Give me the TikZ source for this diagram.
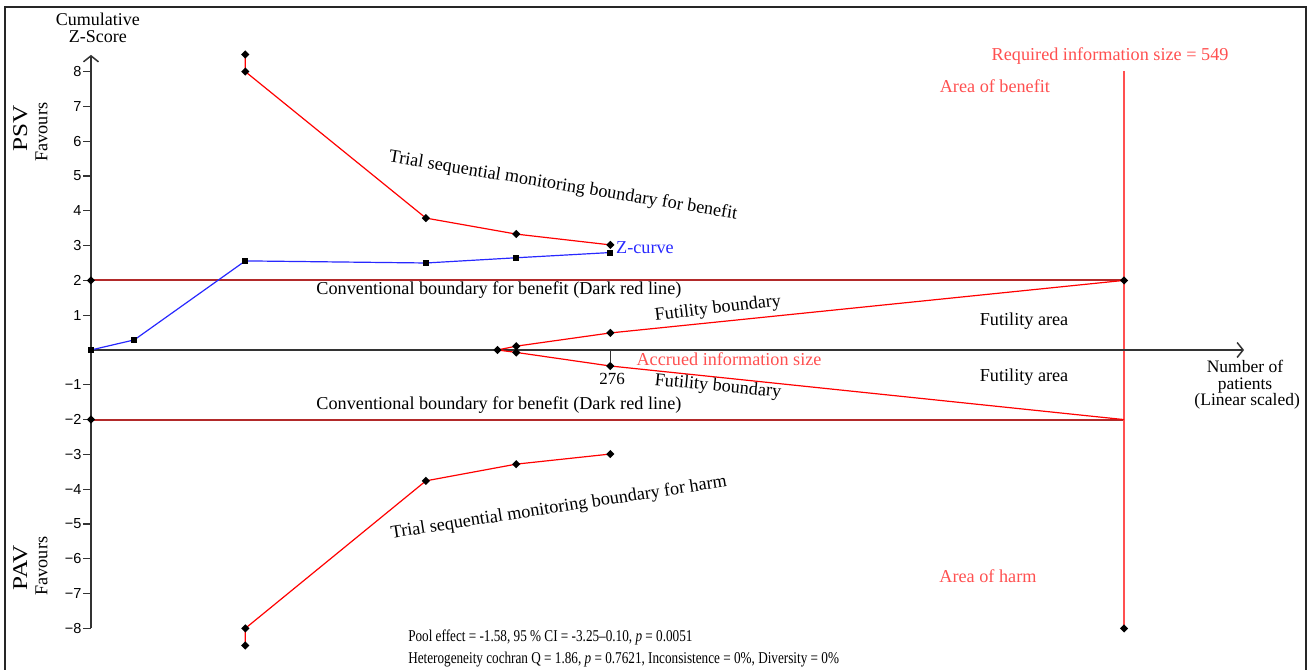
\documentclass[tikz,border=0pt]{standalone}
\usepackage{fontspec}
\setmainfont{Liberation Serif}
\newfontfamily\ticksfont{Liberation Sans}
\newfontfamily\condfont[FakeStretch=0.8]{Liberation Serif}
\newfontfamily\widefont[FakeStretch=1.2]{Liberation Serif}
\usetikzlibrary{arrows.meta,shapes.geometric}
\definecolor{convred}{RGB}{178,42,42}
\definecolor{infored}{RGB}{255,80,80}
\definecolor{zblue}{RGB}{40,40,255}
\tikzset{
  bound/.style={diamond,fill,inner sep=2.1pt},
  zmark/.style={rectangle,fill,inner sep=3pt},
  axis/.style={line width=1.5pt,black!80},
  lbl/.style={font=\fontsize{18.2}{20}\selectfont,inner sep=0pt},
  redlbl/.style={lbl,text=infored},
  ticklbl/.style={font=\ticksfont\fontsize{14.5}{16}\selectfont,anchor=east,inner sep=1pt,text=black},
  bline/.style={red,line width=1.2pt},
  zline/.style={zblue,line width=1.2pt}
}

\begin{document}
\begin{tikzpicture}[x=1.8816pt,y=34.8pt]

    % Define the information sizes (patients)
    \def\nacc{276}   % Accrued information size
    \def\nreq{549}   % Required information size
    \def\xarr{612.8} % End of the x-axis arrow

    \useasboundingbox (-48.36,-9.195) rectangle (647.85,10.057);

    % -- Outer frame --
    \draw[line width=2pt,black!85] (-45.7,-9.4) -- (-45.7,9.87) -- (645.7,9.87) -- (645.7,-9.4);

    % -- Boundary points --
    \foreach \n/\x/\y in {b1/82/8.49, b2/82/8.0, b3/178/3.79, b4/226/3.33, b5/\nacc/3.02,
                          h1/82/-8.49, h2/82/-8.0, h3/178/-3.76, h4/226/-3.28, h5/\nacc/-2.99,
                          fa/216/0, fu1/226/0.11, fu2/\nacc/0.49, fu3/\nreq/2,
                          fl1/226/-0.07, fl2/\nacc/-0.46, fl3/\nreq/-2,
                          cu0/0/2, cl0/0/-2, ri/\nreq/8.02, rb/\nreq/-8}
      \coordinate (\n) at (\x,\y);

    % -- Z-curve points --
    \foreach \n/\x/\y in {z0/0/0, z1/23/0.29, z2/82/2.56, z3/178/2.5, z4/226/2.65, z5/\nacc/2.8}
      \coordinate (\n) at (\x,\y);

    % -- Conventional boundaries (dark red lines) --
    \draw[convred,line width=2pt] (cu0) -- (fu3);
    \draw[convred,line width=2pt] (cl0) -- (fl3);

    % -- Required information size --
    \draw[infored,line width=1.6pt] (ri) -- (rb);

    % -- Axes --
    \draw[axis,-{Straight Barb[length=6pt,width=15pt]}] (0,-8) -- (0,8.48);
    \draw[axis,-{Straight Barb[length=6pt,width=15pt]}] (z0) -- (\xarr,0);
    \foreach \t in {1,...,8}{
      \draw[axis,line width=1.2pt] (0,\t) -- (-4.25,\t) node[ticklbl] {\t};
      \draw[axis,line width=1.2pt] (0,-\t) -- (-4.25,-\t) node[ticklbl] {−\t};
    }
    \draw[axis,line width=1.2pt] (\nacc,0) -- (\nacc,-0.34);

    % -- Monitoring and futility boundaries --
    \draw[bline] (b1) -- (b2) -- (b3) -- (b4) -- (b5);
    \draw[bline] (h1) -- (h2) -- (h3) -- (h4) -- (h5);
    \draw[bline] (fa) -- (fu1) -- (fu2) -- (fu3);
    \draw[bline] (fa) -- (fl1) -- (fl2) -- (fl3);

    % -- Z-curve --
    \draw[zline] (z0) -- (z1) -- (z2) -- (z3) -- (z4) -- (z5);

    % -- Markers --
    \foreach \n in {b1,b2,b3,b4,b5,h1,h2,h3,h4,h5,fa,fu1,fu2,fu3,fl1,fl2,cu0,cl0,rb}
      \node[bound] at (\n) {};
    \foreach \n in {z0,z1,z2,z3,z4,z5}
      \node[zmark] at (\n) {};

    % -- Axis descriptions --
    \node[lbl,align=center,font=\fontsize{18}{17}\selectfont] (ytitle) at (3.7,9.25) {Cumulative\\Z-Score};
    \node[lbl,rotate=90,anchor=center] (psv) at (-37.6,6.38) {\widefont\fontsize{21}{22}\selectfont PSV};
    \node[lbl,rotate=90,anchor=center] (psvfav) at (-26.3,6.26) {Favours};
    \node[lbl,rotate=90,anchor=center] (pav) at (-37.6,-6.26) {\widefont\fontsize{21}{22}\selectfont PAV};
    \node[lbl,rotate=90,anchor=center] (pavfav) at (-26.3,-6.21) {Favours};
    \node[lbl,align=center,font=\fontsize{17.5}{16.5}\selectfont] (xtitle) at (613.3,-1.0) {Number of\\patients\\\ (Linear scaled)};
    \node[lbl,font=\fontsize{17}{18}\selectfont] (nacclbl) at (276.9,-0.83) {276};

    % -- Boundary labels --
    \node[lbl,rotate=-9.3] (benlbl) at (250.9,4.71) {Trial sequential monitoring boundary for benefit};
    \node[lbl,rotate=8.8] (harmlbl) at (248.7,-4.54) {Trial sequential monitoring boundary for harm};
    \node[lbl,anchor=west,text=zblue] (zlbl) at (279,2.93) {Z-curve};
    \node[lbl] (convup) at (216.8,1.72) {Conventional boundary for benefit (Dark red line)};
    \node[lbl] (convlo) at (216.8,-1.58) {Conventional boundary for benefit (Dark red line)};
    \node[lbl,rotate=6.5] (futup) at (333.2,1.18) {Futility boundary};
    \node[lbl,rotate=-5.5] (futlo) at (333.2,-1.06) {Futility boundary};
    \node[lbl] (futareaup) at (495.9,0.83) {Futility area};
    \node[lbl] (futarealo) at (495.9,-0.78) {Futility area};

    % -- Information size and area labels --
    \node[redlbl] (acclbl) at (339.1,-0.26) {Accrued information size};
    \node[redlbl] (reqlbl) at (541.6,8.45) {Required information size = 549};
    \node[redlbl] (benarea) at (480.4,7.59) {Area of benefit};
    \node[redlbl] (harmarea) at (476.7,-6.49) {Area of harm};

    % -- Pooled results --
    \node[anchor=west,inner sep=0pt,align=left,font=\condfont\fontsize{16.5}{22}\selectfont] (pool) at (168.5,-8.565)
      {Pool effect = -1.58, 95 \% CI = -3.25–0.10, \textit{p} = 0.0051\\
       Heterogeneity cochran Q = 1.86, \textit{p} = 0.7621, Inconsistence = 0\%, Diversity = 0\%};

\end{tikzpicture}
\end{document}
